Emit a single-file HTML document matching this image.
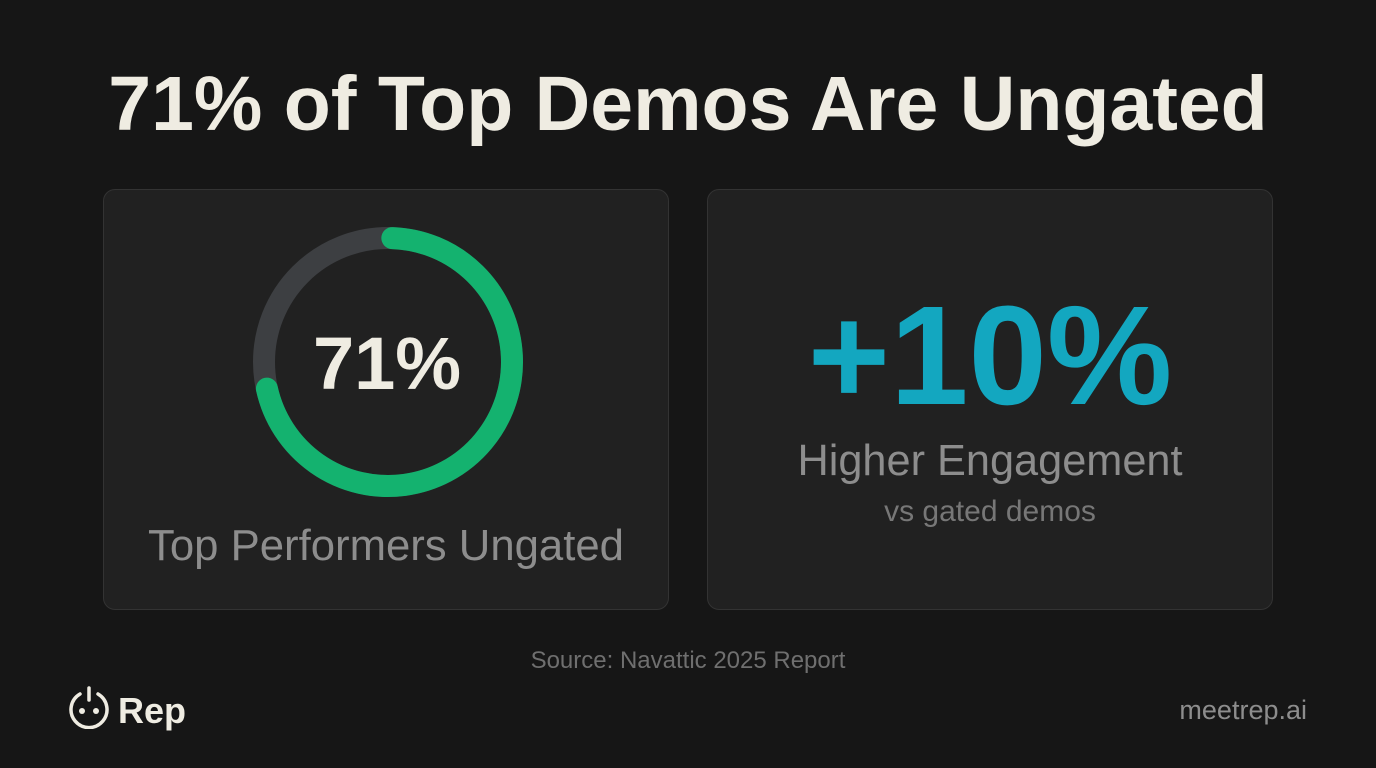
<!DOCTYPE html>
<html><head><meta charset="utf-8"><style>
body{margin:0;width:1376px;height:768px;background:#161616;font-family:"Liberation Sans",sans-serif;overflow:hidden;position:relative}
.title{position:absolute;top:60px;left:0;width:1376px;text-align:center;font-size:77px;font-weight:bold;color:#efece2}
.card{position:absolute;top:189px;width:566px;height:421px;background:#212121;border:1px solid #333;border-radius:12px;box-sizing:border-box}
.t{position:absolute;width:100%;text-align:center}
</style></head><body>
<div class="title">71% of Top Demos Are Ungated</div>
<div class="card" style="left:103px">
<svg width="566" height="421" style="position:absolute;left:0;top:0">
<circle id="track" fill="none" stroke="#3d3f42" stroke-width="22"/>
<path id="arc" fill="none" stroke="#14b26f" stroke-width="22" stroke-linecap="round"/>
<text x="283" y="199" text-anchor="middle" font-family="Liberation Sans" font-weight="bold" font-size="74" fill="#efece2">71%</text>
</svg>
<div class="t" style="top:331px;font-size:43.7px;color:#8d8d8d">Top Performers Ungated</div>
</div>
<div class="card" style="left:707px">
<div class="t" style="top:84px;font-size:141px;font-weight:bold;color:#13a7c0">+10%</div>
<div class="t" style="top:247px;font-size:43.3px;color:#8d8d8d">Higher Engagement</div>
<div class="t" style="top:305px;font-size:30px;color:#777">vs gated demos</div>
</div>
<div class="t" style="top:647px;font-size:24px;color:#6f6f6f">Source: Navattic 2025 Report</div>
<svg width="44" height="44" style="position:absolute;left:67px;top:685px">
<path d="M13 9 A18 18 0 1 0 31 9" fill="none" stroke="#efece2" stroke-width="3.5" stroke-linecap="round"/>
<line x1="22" y1="3" x2="22" y2="15" stroke="#efece2" stroke-width="3.5" stroke-linecap="round"/>
<circle cx="15" cy="26" r="3" fill="#efece2"/><circle cx="29" cy="26" r="3" fill="#efece2"/>
</svg>
<div style="position:absolute;left:118px;top:690px;font-size:36px;font-weight:bold;color:#efece2">Rep</div>
<div style="position:absolute;right:69px;top:695px;font-size:27px;color:#8d8d8d">meetrep.ai</div>
<script>
const categories=["Ungated","Gated"];
const values=[71,29];
const cx=284,cy=172,r=124;
const tr=document.getElementById('track');
tr.setAttribute('cx',cx);tr.setAttribute('cy',cy);tr.setAttribute('r',r);
const startDeg=2;
const endDeg=startDeg+values[0]/100*360;
function pt(d){const a=(d-90)*Math.PI/180;return [cx+r*Math.cos(a),cy+r*Math.sin(a)];}
const s=pt(startDeg),e=pt(endDeg);
const large=(endDeg-startDeg)>180?1:0;
document.getElementById('arc').setAttribute('d',`M${s[0]} ${s[1]} A${r} ${r} 0 ${large} 1 ${e[0]} ${e[1]}`);
</script>
</body></html>
